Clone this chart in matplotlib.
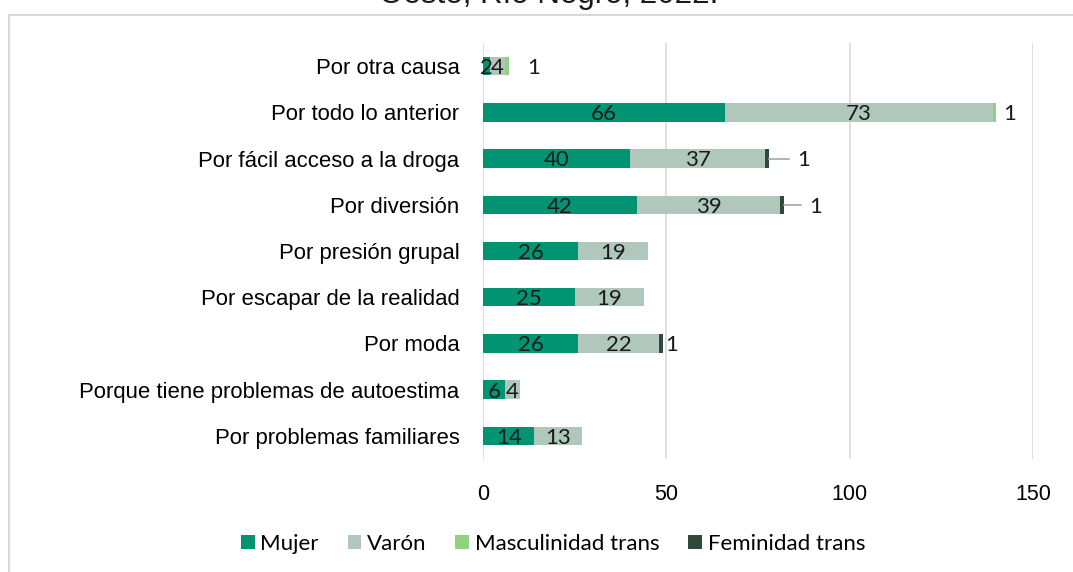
import matplotlib
matplotlib.use("Agg")
import matplotlib.pyplot as plt
from matplotlib.lines import Line2D
import numpy as np

categories = ["Por otra causa", "Por todo lo anterior", "Por fácil acceso a la droga",
              "Por diversión", "Por presión grupal", "Por escapar de la realidad",
              "Por moda", "Porque tiene problemas de autoestima", "Por problemas familiares"]
mujer = [2, 66, 40, 42, 26, 25, 26, 6, 14]
varon = [4, 73, 37, 39, 19, 19, 22, 4, 13]
masc_trans = [1, 1, 0, 0, 0, 0, 0, 0, 0]
fem_trans = [0, 0, 1, 1, 0, 0, 1, 0, 0]
series_names = ["Mujer", "Varón", "Masculinidad trans", "Feminidad trans"]
colors = ["#009473", "#B0C8BC", "#92D27F", "#2F4A3A"]
xticks = [0, 50, 100, 150]
title = "Oeste, Río Negro, 2022."

label_font = "Lato"
axis_font = "Liberation Sans"
lbl_size = 16

fig = plt.figure(figsize=(10.73, 5.72), dpi=100)
ax = fig.add_axes([483/1073, 1 - 459/572, (1033-483)/1073, (459-43)/572])

y = np.arange(len(categories))
series = [mujer, varon, masc_trans, fem_trans]
left = np.zeros(len(categories))
for vals, c, name in zip(series, colors, series_names):
    v = np.array(vals, dtype=float)
    ax.barh(y, v, left=left, height=0.4, color=c, label=name, zorder=3)
    left = left + v

# data labels inside for Mujer and Varón
left = np.zeros(len(categories))
for si, vals in enumerate(series[:2]):
    for i, v in enumerate(vals):
        if v > 0:
            ax.text(left[i] + v / 2, y[i] + 0.04, str(v), ha="center", va="center",
                    fontsize=lbl_size, family=label_font, color="#1a1a1a", zorder=5)
    left = left + np.array(vals)

totals = np.array(mujer) + np.array(varon)
# Masculinidad trans labels (placed outside)
masc_offsets = {0: 5.0, 1: 1.8}
for i, v in enumerate(masc_trans):
    if v > 0:
        end = totals[i] + v
        ax.text(end + masc_offsets.get(i, 2.0), y[i] + 0.04, str(v),
                ha="left", va="center", fontsize=lbl_size, family=label_font, color="#1a1a1a")
# Feminidad trans labels with leader lines
fem_leader = {2: 5.5, 3: 4.8}
for i, v in enumerate(fem_trans):
    if v > 0:
        end = totals[i] + v
        if i in fem_leader:
            ax.plot([end, end + fem_leader[i]], [y[i], y[i]], color="#A6A6A6", lw=1.2, zorder=4)
            ax.text(end + fem_leader[i] + 2.2, y[i] + 0.04, str(v), ha="left", va="center",
                    fontsize=lbl_size, family=label_font, color="#1a1a1a")
        else:
            ax.text(end + 0.8, y[i] + 0.04, str(v), ha="left", va="center",
                    fontsize=lbl_size, family=label_font, color="#1a1a1a")

ax.set_xlim(0, 150)
ax.set_ylim(len(categories) - 0.5, -0.5)
ax.set_xticks(xticks)
ax.set_xticklabels([str(t) for t in xticks], fontsize=15.5, family=axis_font)
ax.set_yticks(y)
ax.set_yticklabels(categories, fontsize=15.9, family=axis_font)
ax.tick_params(axis="both", length=0)
ax.tick_params(axis="x", pad=18)
ax.tick_params(axis="y", pad=17)
ax.grid(axis="x", color="#D9D9D9", lw=1.2, zorder=0)
for s in ax.spines.values():
    s.set_visible(False)

handles, labels = ax.get_legend_handles_labels()
leg = fig.legend(handles, labels, loc="center", bbox_to_anchor=(553/1073, 1 - 544/572),
                 ncol=4, frameon=False, handlelength=0.62, handleheight=0.62,
                 handletextpad=0.25, columnspacing=1.3, prop={"family": label_font, "size": 16})

# title (partially cut off at the top, as in the reference)
fig.text(549/1073, 1 - 3/572, title, ha="center", va="baseline",
         fontsize=22.5, family=axis_font, color="#1a1a1a")

# chart border (light grey)
fig.add_artist(Line2D([8.5/1073, 8.5/1073], [0, 1 - 14.5/572], transform=fig.transFigure,
                      color="#D9D9D9", lw=1.5))
fig.add_artist(Line2D([8.5/1073, 1], [1 - 14.5/572, 1 - 14.5/572], transform=fig.transFigure,
                      color="#D9D9D9", lw=1.5))

fig.savefig("out.png", dpi=100)
